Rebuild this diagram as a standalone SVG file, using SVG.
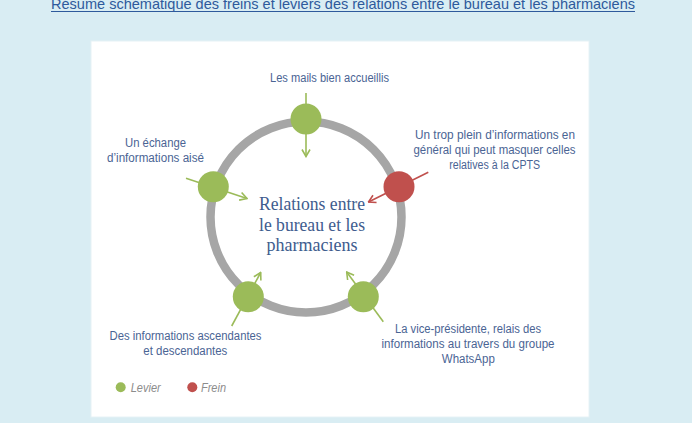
<svg xmlns="http://www.w3.org/2000/svg" width="692" height="423" viewBox="0 0 692 423">
  <style>
    .lbl { font-family: "Liberation Sans", Arial, sans-serif; font-size: 12px; fill: #4a6494; text-anchor: middle; }
    .ctr { font-family: "Liberation Serif", "Times New Roman", serif; font-size: 19px; fill: #3e5c8e; text-anchor: middle; }
    .leg { font-family: "Liberation Sans", Arial, sans-serif; font-size: 12px; font-style: italic; fill: #8c8c8c; }
    .lev { fill: #9bbb59; }
    .fr { fill: #c0504d; }
    .ag { stroke: #9bbb59; stroke-width: 1.6; fill: none; marker-end: url(#mg); }
    .ar { stroke: #c0504d; stroke-width: 1.6; fill: none; marker-end: url(#mr); }
  </style>
  <defs>
    <marker id="mg" viewBox="0 0 10 10" refX="9" refY="5" markerWidth="10" markerHeight="10" markerUnits="userSpaceOnUse" orient="auto">
      <path d="M2,1 L9,5 L2,9" fill="none" stroke="#9bbb59" stroke-width="1.6"/>
    </marker>
    <marker id="mr" viewBox="0 0 10 10" refX="9" refY="5" markerWidth="10" markerHeight="10" markerUnits="userSpaceOnUse" orient="auto">
      <path d="M2,1 L9,5 L2,9" fill="none" stroke="#c0504d" stroke-width="1.6"/>
    </marker>
  </defs>
  <rect x="0" y="0" width="692" height="423" fill="#d9edf3"/>
  <text x="51" y="8.5" font-family="Liberation Sans, Arial, sans-serif" font-size="15" fill="#2e5a9c" textLength="584" lengthAdjust="spacingAndGlyphs">Résumé schématique des freins et leviers des relations entre le bureau et les pharmaciens</text>
  <line x1="51" y1="11.5" x2="635" y2="11.5" stroke="#2e5a9c" stroke-width="1"/>
  <rect x="91" y="41" width="498" height="376" fill="#ffffff" stroke="#e6f2f6" stroke-width="1"/>

  <g id="ring">
    <circle cx="306" cy="217" r="95.5" fill="none" stroke="#a6a6a6" stroke-width="8.5"/>
  </g>
  <g id="center">
    <text class="ctr" x="312" y="210" textLength="106" lengthAdjust="spacingAndGlyphs">Relations entre</text>
    <text class="ctr" x="312" y="230.5" textLength="106" lengthAdjust="spacingAndGlyphs">le bureau et les</text>
    <text class="ctr" x="312" y="250.5" textLength="91" lengthAdjust="spacingAndGlyphs">pharmaciens</text>
  </g>

  <g id="connectors">
    <line class="ag" x1="306" y1="93" x2="306" y2="156.5"/>
    <line class="ag" x1="186" y1="178.3" x2="247" y2="198.5"/>
    <line class="ar" x1="428.3" y1="172.3" x2="368.5" y2="202"/>
    <line class="ag" x1="231.7" y1="326" x2="260.7" y2="272.5"/>
    <line class="ag" x1="383.3" y1="321.7" x2="346.7" y2="272"/>
  </g>

  <g id="n-mails">
    <circle class="lev" cx="306" cy="119" r="15.5"/>
    <text class="lbl" x="329.5" y="82" textLength="119" lengthAdjust="spacingAndGlyphs">Les mails bien accueillis</text>
  </g>
  <g id="n-echange">
    <circle class="lev" cx="213.3" cy="186.7" r="15.5"/>
    <text class="lbl" x="155.5" y="147" textLength="61" lengthAdjust="spacingAndGlyphs">Un échange</text>
    <text class="lbl" x="155.5" y="162" textLength="97" lengthAdjust="spacingAndGlyphs">d’informations aisé</text>
  </g>
  <g id="n-trop-plein">
    <circle class="fr" cx="399" cy="186.7" r="15.5"/>
    <text class="lbl" x="495" y="139" textLength="160" lengthAdjust="spacingAndGlyphs">Un trop plein d’informations en</text>
    <text class="lbl" x="494.5" y="154" textLength="162" lengthAdjust="spacingAndGlyphs">général qui peut masquer celles</text>
    <text class="lbl" x="494.7" y="169" textLength="91" lengthAdjust="spacingAndGlyphs">relatives à la CPTS</text>
  </g>
  <g id="n-ascendantes">
    <circle class="lev" cx="248.3" cy="296.7" r="15.5"/>
    <text class="lbl" x="185.5" y="340" textLength="152" lengthAdjust="spacingAndGlyphs">Des informations ascendantes</text>
    <text class="lbl" x="185.3" y="355" textLength="84" lengthAdjust="spacingAndGlyphs">et descendantes</text>
  </g>
  <g id="n-vice-presidente">
    <circle class="lev" cx="363.3" cy="296.7" r="15.5"/>
    <text class="lbl" x="468" y="333" textLength="146" lengthAdjust="spacingAndGlyphs">La vice-présidente, relais des</text>
    <text class="lbl" x="468" y="348" textLength="173" lengthAdjust="spacingAndGlyphs">informations au travers du groupe</text>
    <text class="lbl" x="468.3" y="362.5" textLength="53" lengthAdjust="spacingAndGlyphs">WhatsApp</text>
  </g>

  <g id="legend">
    <circle class="lev" cx="120.7" cy="387.3" r="5"/>
    <text class="leg" x="130.7" y="391.5" textLength="30" lengthAdjust="spacingAndGlyphs">Levier</text>
    <circle class="fr" cx="192.3" cy="387.3" r="5"/>
    <text class="leg" x="201" y="391.5" textLength="25" lengthAdjust="spacingAndGlyphs">Frein</text>
  </g>
</svg>
